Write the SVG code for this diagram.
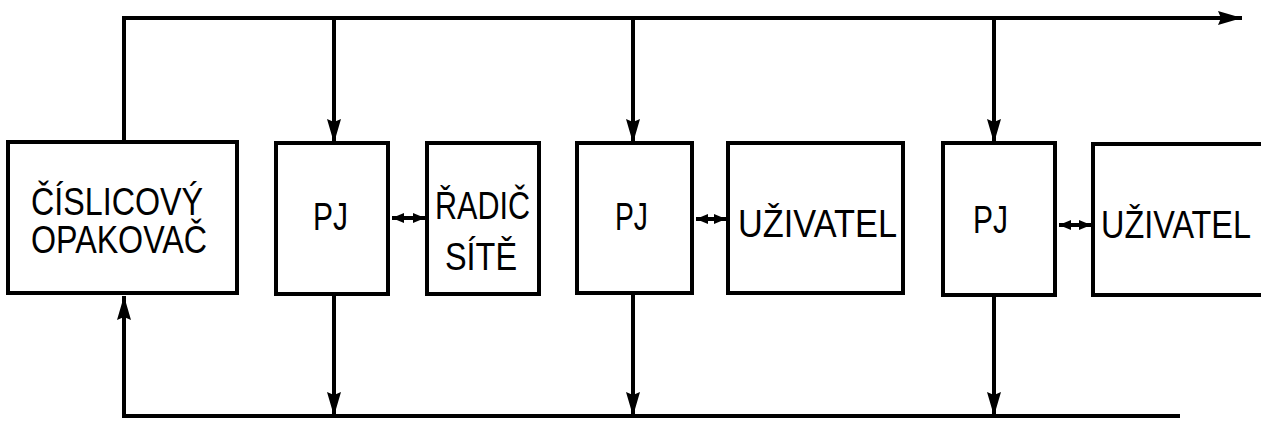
<svg xmlns="http://www.w3.org/2000/svg" width="1261" height="423" viewBox="0 0 1261 423">
<style>
.box{fill:#fff;stroke:#000;stroke-width:4}
.ln{fill:none;stroke:#000;stroke-width:4}
.t{font-family:"Liberation Sans Narrow","Liberation Sans",Arial,sans-serif;font-size:38px;fill:#000}
</style>
<defs>
<marker id="ah" viewBox="0 0 24 14" refX="24" refY="7" markerWidth="24" markerHeight="14" markerUnits="userSpaceOnUse" orient="auto">
<path d="M0,0 L24,7 L0,14 L3,7 Z" fill="#000"/>
</marker>
<marker id="sh" viewBox="0 0 12 10" refX="12" refY="5" markerWidth="12" markerHeight="10" markerUnits="userSpaceOnUse" orient="auto-start-reverse">
<path d="M0,0 L12,5 L0,10 Z" fill="#000"/>
</marker>
</defs>
<rect width="1261" height="423" fill="#fff"/>
<g id="connectors">
<polyline class="ln" points="124,142 124,18 1242,18" marker-end="url(#ah)"/>
<line class="ln" x1="334" y1="18" x2="334" y2="143" marker-end="url(#ah)"/>
<line class="ln" x1="633" y1="18" x2="633" y2="143" marker-end="url(#ah)"/>
<line class="ln" x1="994" y1="18" x2="994" y2="143" marker-end="url(#ah)"/>
<polyline class="ln" points="1180,416 124,416 124,296" marker-end="url(#ah)"/>
<line class="ln" x1="334" y1="294" x2="334" y2="416" marker-end="url(#ah)"/>
<line class="ln" x1="633" y1="293" x2="633" y2="416" marker-end="url(#ah)"/>
<line class="ln" x1="994" y1="295" x2="994" y2="416" marker-end="url(#ah)"/>
<line class="ln" x1="392" y1="218" x2="425" y2="218" marker-start="url(#sh)" marker-end="url(#sh)"/>
<line class="ln" x1="696" y1="219" x2="726" y2="219" marker-start="url(#sh)" marker-end="url(#sh)"/>
<line class="ln" x1="1059" y1="225" x2="1091" y2="225" marker-start="url(#sh)" marker-end="url(#sh)"/>
</g>
<g id="opakovac">
<rect class="box" x="8" y="142" width="229" height="151"/>
<text class="t" x="31" y="215" textLength="172" lengthAdjust="spacingAndGlyphs">ČÍSLICOVÝ</text>
<text class="t" x="31" y="253" textLength="176" lengthAdjust="spacingAndGlyphs">OPAKOVAČ</text>
</g>
<g id="pj1">
<rect class="box" x="276" y="143" width="112" height="151"/>
<text class="t" x="313" y="230" textLength="35" lengthAdjust="spacingAndGlyphs">PJ</text>
</g>
<g id="radic">
<rect class="box" x="427" y="143" width="112" height="151"/>
<text class="t" x="435" y="219" textLength="95" lengthAdjust="spacingAndGlyphs">ŘADIČ</text>
<text class="t" x="445" y="270" textLength="72" lengthAdjust="spacingAndGlyphs">SÍTĚ</text>
</g>
<g id="pj2">
<rect class="box" x="577" y="143" width="115" height="150"/>
<text class="t" x="615" y="230" textLength="33" lengthAdjust="spacingAndGlyphs">PJ</text>
</g>
<g id="uzivatel1">
<rect class="box" x="728" y="143" width="175" height="150"/>
<text class="t" x="738" y="237" textLength="159" lengthAdjust="spacingAndGlyphs">UŽIVATEL</text>
</g>
<g id="pj3">
<rect class="box" x="943" y="143" width="112" height="152"/>
<text class="t" x="973" y="233" textLength="35" lengthAdjust="spacingAndGlyphs">PJ</text>
</g>
<g id="uzivatel2">
<rect class="box" x="1093" y="144" width="180" height="151"/>
<text class="t" x="1101" y="238" textLength="150" lengthAdjust="spacingAndGlyphs">UŽIVATEL</text>
</g>
</svg>
